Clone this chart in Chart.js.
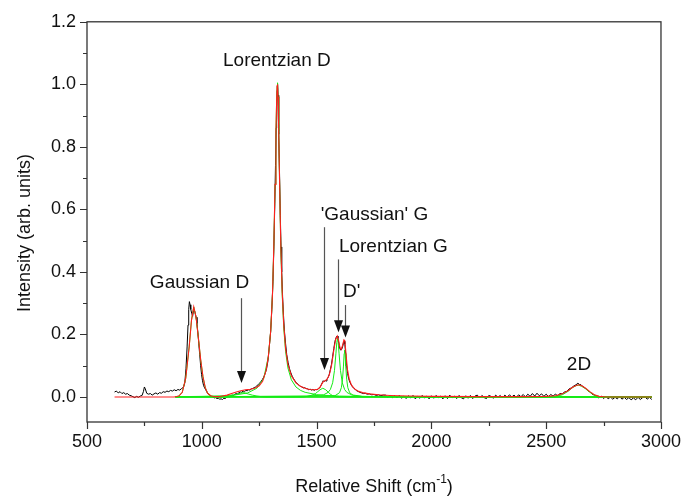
<!DOCTYPE html>
<html>
<head>
<meta charset="utf-8">
<script src="https://cdn.jsdelivr.net/npm/chart.js@4/dist/chart.umd.min.js"></script>
<style>
  html, body { margin: 0; padding: 0; background: #ffffff; }
  #wrap { width: 690px; height: 500px; position: relative; }
</style>
</head>
<body>
<div id="wrap"><canvas id="c" width="690" height="500"></canvas></div>
<script>
// ---------- DATA ----------
// Measured spectrum (black)
const specX = [620,628,636,644,652,660,668,676,684,692,700,708,716,724,732,740,746,750,754,760,768,776,784,792,800,808,816,824,832,840,848,856,864,872,880,888,896,904,912,920,
926,931,936,940,943,946,949,952,956,960,963,967,971,975,979,983,987,991,995,999,1003,1008,1013,1018,1024,1030,1036,1042,1048,1054,1060,1066,1072,1078,1084,1090,1096,1102,1108,1114,1120,1126,1132,1138,1144,1150,1156,1162,1168,1174,1180,1186,1192,1198,1204,1210,1216,1222,1228,1234,1240,1246,1252,1258,1264,1270,1276,1282,1288,1294,1300,1305,1310,1314,1318,1321,1324,1326,1328,1330,1332,1334,1336,1339,1342,1345,1348,1352,1356,1360,1365,1370,1376,1382,1388,1394,1400,1406,1412,1418,1424,1430,1436,1442,1448,1454,1460,1466,1472,1478,1484,1490,1496,1502,1508,1514,1520,1525,1529,1533,1537,1541,1545,1550,1555,1560,1565,1570,1575,1580,1585,1589,1593,1597,1601,1605,1609,1613,1617,1620,1623,1627,1631,1635,1640,1645,1650,1656,1662,1668,1674,1680,1688,1696,1704,1712,1720,1730,1740,1750,1760,1770,1780,1790,
1800,1810,1820,1830,1840,1850,1860,1870,1880,1890,1900,1910,1920,1930,1940,1950,1960,1970,1980,1990,2000,2010,2020,2030,2040,2050,2060,2070,2080,2090,2100,2110,2120,2130,2140,2150,2160,2170,2180,2190,2200,2210,2220,2230,2240,2250,2260,2270,2280,2290,2300,2310,2320,2330,2340,2350,2360,2370,2380,2390,2400,2410,2420,2430,2440,2450,2460,2470,2480,2490,2500,2510,2520,2530,2540,2550,2560,2570,2580,2590,2600,2610,2620,2630,2638,2645,2652,2660,2670,2680,2690,2700,2710,2720,2730,2740,2750,2760,2770,2780,2790,2800,2810,2820,2830,2840,2850,2860,2870,2880,2890,2900,2910,2920,2930,2940,2950,2960];
const specY = [0.016,0.019,0.013,0.017,0.011,0.014,0.009,0.011,0.006,0.004,0.001,-0.002,0.002,-0.001,0.003,0.005,0.018,0.032,0.026,0.012,0.009,0.011,0.006,0.010,0.013,0.009,0.014,0.012,0.017,0.015,0.019,0.017,0.021,0.019,0.023,0.020,0.024,0.022,0.027,0.031,
0.045,0.09,0.16,0.23,0.28,0.305,0.295,0.28,0.268,0.258,0.272,0.278,0.27,0.255,0.235,0.205,0.17,0.135,0.1,0.072,0.052,0.036,0.028,0.022,0.014,0.008,0.006,0.002,0.0,-0.003,-0.002,-0.005,-0.004,-0.007,-0.006,-0.008,-0.004,-0.005,-0.001,0.001,0.0,0.004,0.006,0.005,0.009,0.011,0.010,0.014,0.016,0.015,0.019,0.017,0.021,0.020,0.023,0.022,0.026,0.027,0.030,0.032,0.036,0.040,0.044,0.050,0.056,0.064,0.075,0.09,0.115,0.16,0.21,0.28,0.37,0.48,0.62,0.74,0.86,0.93,0.98,1.0,0.965,0.91,0.84,0.70,0.58,0.48,0.40,0.32,0.26,0.21,0.17,0.135,0.11,0.09,0.077,0.066,0.058,0.051,0.046,0.041,0.037,0.034,0.032,0.029,0.030,0.027,0.026,0.023,0.025,0.022,0.024,0.021,0.024,0.023,0.027,0.030,0.038,0.046,0.052,0.049,0.053,0.051,0.057,0.062,0.072,0.088,0.105,0.13,0.155,0.178,0.19,0.195,0.188,0.17,0.155,0.15,0.152,0.16,0.172,0.178,0.17,0.135,0.1,0.075,0.058,0.047,0.04,0.033,0.028,0.025,0.02,0.018,0.015,0.013,0.011,0.012,0.009,0.010,0.007,0.008,0.005,0.007,0.004,0.006,
0.006,-0.001,0.005,-0.002,0.004,-0.003,0.005,-0.004,0.003,-0.005,0.004,-0.003,0.005,-0.006,0.002,-0.004,0.005,-0.003,0.003,-0.006,0.004,-0.004,0.005,-0.002,0.003,-0.006,0.004,-0.005,0.006,-0.003,0.003,-0.005,0.005,-0.002,-0.006,0.004,-0.004,0.005,-0.005,0.003,0.006,-0.003,0.005,-0.002,-0.005,0.005,0.002,-0.004,0.006,-0.001,0.005,-0.003,0.006,-0.001,0.007,0.0,0.006,-0.001,0.007,0.001,0.008,0.0,0.009,0.002,0.011,0.003,0.012,0.004,0.010,0.002,0.009,0.001,0.008,0.003,0.009,0.004,0.011,0.010,0.016,0.018,0.026,0.029,0.035,0.039,0.044,0.040,0.039,0.033,0.029,0.021,0.017,0.009,0.006,0.0,-0.003,0.003,-0.005,0.002,-0.006,0.0,-0.007,-0.001,-0.006,0.002,-0.007,-0.001,-0.008,-0.002,-0.009,-0.003,-0.009,-0.001,-0.008,-0.002,0.001,-0.007,-0.001,-0.008];

// Cumulative fit (red)
const fitX = [620,880,900,915,930,945,955,965,975,985,995,1005,1015,1025,1040,1060,1075,1090,1110,1130,1150,1170,1190,1210,1230,1250,1265,1280,1290,1300,1308,1314,1319,1323,1326,1328,1330,1332,1335,1339,1344,1350,1357,1365,1375,1390,1410,1430,1450,1470,1490,1505,1515,1523,1530,1537,1545,1555,1565,1575,1583,1590,1596,1602,1607,1613,1619,1623,1628,1634,1642,1652,1665,1680,1700,1730,1770,1820,1900,2000,2200,2400,2500,2540,2570,2595,2615,2630,2642,2655,2670,2690,2710,2730,2760,2960];
const fitY = [0,0,0.003,0.015,0.06,0.16,0.245,0.288,0.255,0.19,0.12,0.065,0.03,0.012,0.003,0.001,0.001,0.003,0.006,0.011,0.016,0.02,0.023,0.025,0.028,0.036,0.05,0.085,0.13,0.21,0.33,0.49,0.68,0.85,0.95,0.995,1.0,0.96,0.85,0.68,0.49,0.34,0.23,0.155,0.105,0.068,0.045,0.034,0.028,0.024,0.023,0.025,0.031,0.042,0.05,0.052,0.056,0.07,0.1,0.15,0.185,0.195,0.18,0.158,0.152,0.165,0.183,0.18,0.14,0.09,0.058,0.038,0.026,0.019,0.014,0.01,0.007,0.005,0.003,0.002,0.001,0.001,0.002,0.004,0.01,0.02,0.031,0.037,0.039,0.036,0.029,0.017,0.007,0.002,0.0,0.0];

// Fitted components (green)
const peak960X = [885,900,915,930,945,955,965,975,985,995,1005,1015,1025,1040,1060,2960];
const peak960Y = [0,0.003,0.015,0.06,0.16,0.245,0.288,0.255,0.19,0.12,0.065,0.03,0.012,0.003,0,0];
const gaussDX = [885,1080,1100,1120,1140,1155,1168,1180,1192,1205,1220,1240,1260,1280,2960];
const gaussDY = [0,0,0.001,0.003,0.006,0.009,0.012,0.014,0.012,0.009,0.006,0.003,0.001,0,0];
const lorDX = [885,1000,1100,1150,1200,1240,1270,1290,1300,1308,1314,1319,1323,1326,1328,1330,1332,1335,1339,1344,1350,1357,1365,1375,1390,1410,1430,1450,1500,1550,1600,1700,1900,2200,2960];
const lorDY = [0.001,0.002,0.004,0.007,0.013,0.028,0.06,0.13,0.21,0.33,0.49,0.68,0.85,0.95,0.995,1.005,0.96,0.85,0.68,0.48,0.33,0.22,0.145,0.093,0.055,0.032,0.021,0.015,0.0075,0.0045,0.003,0.0016,0.0007,0.0003,0];
const gaussGX = [885,1440,1460,1480,1495,1505,1515,1527,1540,1550,1560,1570,1585,1600,2960];
const gaussGY = [0,0,0.002,0.006,0.011,0.017,0.023,0.028,0.023,0.016,0.009,0.004,0.001,0,0];
const lorGX = [885,1450,1530,1550,1560,1570,1578,1584,1588,1591,1594,1598,1604,1612,1622,1632,1652,1700,1800,2960];
const lorGY = [0,0.0013,0.0069,0.0146,0.024,0.0455,0.085,0.138,0.174,0.188,0.174,0.138,0.085,0.0455,0.024,0.0146,0.0069,0.0022,0.0006,0];
const dPrimeX = [885,1580,1600,1608,1613,1617,1620,1622,1624,1627,1631,1636,1644,1660,1700,2960];
const dPrimeY = [0,0.004,0.0138,0.03,0.057,0.099,0.139,0.15,0.139,0.099,0.057,0.03,0.0138,0.0048,0.0012,0];
const twoDX = [885,2540,2570,2595,2615,2630,2640,2655,2670,2690,2710,2730,2750,2960];
const twoDY = [0,0.001,0.007,0.018,0.03,0.036,0.038,0.034,0.027,0.015,0.006,0.002,0,0];

// Axis ticks
const xMajorTicks = [500,1000,1500,2000,2500,3000];
const xMinorTicks = [750,1250,1750,2250,2750];
const yMajorTicks = [0.0,0.2,0.4,0.6,0.8,1.0,1.2];
const yMinorTicks = [0.1,0.3,0.5,0.7,0.9,1.1];

// Peak labels and arrows (data coordinates)
const labelTexts = ['Lorentzian D','Gaussian D',"'Gaussian' G",'Lorentzian G',"D'",'2D'];
const labelAtX = [1327,990,1752,1834,1653,2643];
const labelAtY = [1.076,0.364,0.584,0.482,0.338,0.102];
const arrowAtX = [1171,1533,1593,1623];
const arrowFromY = [0.316,0.543,0.44,0.294];
const arrowToY = [0.045,0.086,0.207,0.19];

// ---------- CHART ----------
const FONT = '"Liberation Sans", Arial, Helvetica, sans-serif';
const pts = (xs, ys) => xs.map((x, i) => ({x: x, y: ys[i]}));
const GREEN = 'rgb(20,235,20)';
const compStyle = {borderColor: GREEN, borderWidth: 1, pointRadius: 0, fill: false, order: 2};

const decor = {
  id: 'decor',
  afterDatasetsDraw(chart) {
    const ctx = chart.ctx, a = chart.chartArea;
    const xs = chart.scales.x, ys = chart.scales.y;
    ctx.save();
    // frame
    ctx.strokeStyle = '#333';
    ctx.lineWidth = 1.3;
    ctx.strokeRect(a.left, a.top, a.right - a.left, a.bottom - a.top);
    // ticks
    ctx.lineWidth = 1.2;
    ctx.beginPath();
    yMajorTicks.forEach(v => { const p = Math.round(ys.getPixelForValue(v)) + 0.5; ctx.moveTo(a.left, p); ctx.lineTo(a.left - 7, p); });
    yMinorTicks.forEach(v => { const p = Math.round(ys.getPixelForValue(v)) + 0.5; ctx.moveTo(a.left, p); ctx.lineTo(a.left - 4, p); });
    xMajorTicks.forEach(v => { const p = Math.round(xs.getPixelForValue(v)) + 0.5; ctx.moveTo(p, a.bottom); ctx.lineTo(p, a.bottom + 7); });
    xMinorTicks.forEach(v => { const p = Math.round(xs.getPixelForValue(v)) + 0.5; ctx.moveTo(p, a.bottom); ctx.lineTo(p, a.bottom + 4); });
    ctx.stroke();
    // peak labels
    ctx.fillStyle = '#111';
    ctx.font = '19px ' + FONT;
    ctx.textAlign = 'center';
    ctx.textBaseline = 'middle';
    labelTexts.forEach((t, i) => ctx.fillText(t, xs.getPixelForValue(labelAtX[i]), ys.getPixelForValue(labelAtY[i])));
    // arrows
    ctx.strokeStyle = '#555';
    ctx.fillStyle = '#111';
    ctx.lineWidth = 1.2;
    arrowAtX.forEach((xv, i) => {
      const px = Math.round(xs.getPixelForValue(xv)) + 0.5;
      const p0 = ys.getPixelForValue(arrowFromY[i]);
      const p1 = ys.getPixelForValue(arrowToY[i]);
      ctx.beginPath(); ctx.moveTo(px, p0); ctx.lineTo(px, p1 - 8); ctx.stroke();
      ctx.beginPath(); ctx.moveTo(px, p1); ctx.lineTo(px - 4.5, p1 - 12); ctx.lineTo(px + 4.5, p1 - 12); ctx.closePath(); ctx.fill();
    });
    // axis titles
    ctx.fillStyle = '#111';
    ctx.font = '18px ' + FONT;
    ctx.textBaseline = 'middle';
    const cx = (a.left + a.right) / 2;
    const main = 'Relative Shift (cm', sup = '-1', tail = ')';
    const wMain = ctx.measureText(main).width;
    const wTail = ctx.measureText(tail).width;
    ctx.font = '12px ' + FONT;
    const wSup = ctx.measureText(sup).width;
    const total = wMain + wSup + wTail;
    let x0 = cx - total / 2;
    ctx.textAlign = 'left';
    ctx.font = '18px ' + FONT;
    ctx.fillText(main, x0, 487);
    ctx.font = '12px ' + FONT;
    ctx.fillText(sup, x0 + wMain, 480);
    ctx.font = '18px ' + FONT;
    ctx.fillText(tail, x0 + wMain + wSup, 487);
    ctx.save();
    ctx.translate(25, 233);
    ctx.rotate(-Math.PI / 2);
    ctx.textAlign = 'center';
    ctx.fillText('Intensity (arb. units)', 0, 0);
    ctx.restore();
    ctx.restore();
  }
};

new Chart(document.getElementById('c'), {
  type: 'line',
  data: {
    datasets: [
      {label: 'Fit', data: pts(fitX, fitY), borderColor: 'rgb(255,30,30)', borderWidth: 1.1, pointRadius: 0, fill: false, order: 1},
      Object.assign({label: 'Peak 960', data: pts(peak960X, peak960Y)}, compStyle),
      Object.assign({label: 'Gaussian D', data: pts(gaussDX, gaussDY)}, compStyle),
      Object.assign({label: 'Lorentzian D', data: pts(lorDX, lorDY)}, compStyle),
      Object.assign({label: "'Gaussian' G", data: pts(gaussGX, gaussGY)}, compStyle),
      Object.assign({label: 'Lorentzian G', data: pts(lorGX, lorGY)}, compStyle),
      Object.assign({label: "D'", data: pts(dPrimeX, dPrimeY)}, compStyle),
      Object.assign({label: '2D', data: pts(twoDX, twoDY)}, compStyle),
      {label: 'Spectrum', data: pts(specX, specY), borderColor: '#000', borderWidth: 1, pointRadius: 0, fill: false, order: 3}
    ]
  },
  options: {
    responsive: false,
    devicePixelRatio: 1,
    animation: false,
    layout: {padding: {top: 21, right: 22, left: 0, bottom: 0}},
    plugins: {legend: {display: false}, tooltip: {enabled: false}},
    elements: {line: {tension: 0}},
    scales: {
      x: {
        type: 'linear', min: 500, max: 3000,
        afterBuildTicks: s => { s.ticks = xMajorTicks.map(v => ({value: v})); },
        afterFit: s => { s.height = 78; },
        grid: {display: false, drawTicks: false},
        border: {display: false},
        ticks: {color: '#111', font: {family: FONT, size: 18}, padding: 9, maxRotation: 0, callback: v => String(v)}
      },
      y: {
        type: 'linear', min: -0.08, max: 1.2,
        afterBuildTicks: s => { s.ticks = yMajorTicks.map(v => ({value: v})); },
        afterFit: s => { s.width = 87; },
        grid: {display: false, drawTicks: false},
        border: {display: false},
        ticks: {color: '#111', font: {family: FONT, size: 18}, padding: 11, callback: v => Number(v).toFixed(1)}
      }
    }
  },
  plugins: [decor]
});
</script>
</body>
</html>
